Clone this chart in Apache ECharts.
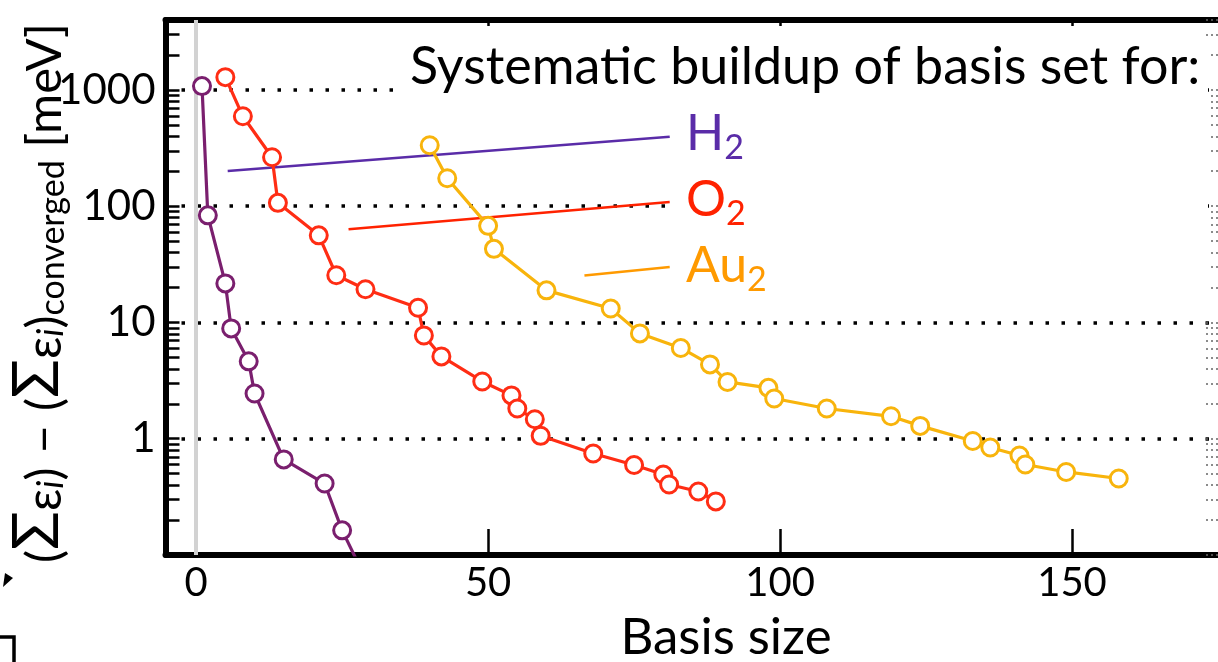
<!DOCTYPE html>
<html><head><meta charset="utf-8">
<script src="https://cdn.jsdelivr.net/npm/echarts@6/dist/echarts.min.js"></script>
<style>html,body{margin:0;padding:0;background:#fff}#c{width:1218px;height:662px}</style>
</head><body><div id="c"></div>
<script>
// ---- data (basis size vs. error in meV) ----
const h2X  = [1, 2, 5, 6, 9, 10, 15, 22, 25, 28];
const h2Y  = [1080, 83.5, 21.7, 8.9, 4.63, 2.45, 0.664, 0.412, 0.163, 0.08];
const o2X  = [5, 8, 13, 14, 21, 24, 29, 38, 39, 42, 49, 54, 55, 58, 59, 68, 75, 80, 81, 86, 89];
const o2Y  = [1290, 594, 264, 107, 56.2, 25.5, 19.3, 13.4, 7.74, 5.11, 3.11, 2.36, 1.82, 1.47, 1.06, 0.747, 0.595, 0.493, 0.404, 0.352, 0.289];
const au2X = [40, 43, 50, 51, 60, 71, 76, 83, 88, 91, 98, 99, 108, 119, 124, 133, 136, 141, 142, 149, 158];
const au2Y = [335, 174, 67.8, 43, 18.9, 13.2, 8.06, 6.04, 4.36, 3.08, 2.74, 2.22, 1.82, 1.56, 1.29, 0.957, 0.841, 0.718, 0.601, 0.518, 0.455];
// legend leader lines (data coordinates)
const h2Leader  = [[5.4, 201], [81.1, 396]];
const o2Leader  = [[26.1, 63.4], [81.1, 109]];
const au2Leader = [[66.5, 25.4], [81.1, 30.0]];
// ticks
const xLabelValues = [0, 50, 100, 150];
const xTickValues  = [50, 100, 150];
const yLabelValues = [1, 10, 100, 1000];
const yDecades     = [0.1, 1, 10, 100, 1000];
const yMinorMult   = [1, 2, 3, 4, 5, 6, 7, 8, 9];

const C_H2 = '#7a1f6e', C_O2 = '#ff2d14', C_AU = '#f8b40c';
const C_H2L = '#5a2ca8', C_O2L = '#ff2200', C_AUL = '#ff9a00';
const FONT = 'Lato';

const yMinor = [];
yDecades.forEach(d => yMinorMult.forEach(m => { const v = +(d * m).toPrecision(3); if (v <= 4000) yMinor.push(v); }));

function pts(xs, ys) { return xs.map((x, i) => [x, ys[i]]); }
function mk(name, xs, ys, color) {
  return { type: 'line', name, data: pts(xs, ys), symbol: 'circle', symbolSize: 17,
    lineStyle: { color, width: 3.2 }, itemStyle: { color: '#fff', borderColor: color, borderWidth: 3 },
    z: 5, clip: true, silent: true };
}
function leader(d, color) {
  return { type: 'line', data: d, symbol: 'none', lineStyle: { color, width: 2.5 }, z: 4, silent: true };
}
function yLabelFmt(v) {
  const l = Math.log10(v), r = Math.round(l);
  if (Math.abs(l - r) < 1e-6 && yLabelValues.indexOf(Math.round(v)) >= 0) return String(Math.round(v));
  return '';
}
// rich token helper: lineHeight chosen so baselines line up
function tok(f, lower, extra) {
  return Object.assign({ fontSize: f, fontFamily: FONT, fill: '#000', verticalAlign: 'bottom',
    lineHeight: 2 * ((12 - lower) + 0.387 * f) }, extra || {});
}

const chart = echarts.init(document.getElementById('c'), null, { renderer: 'canvas' });
chart.setOption({
  animation: false,
  backgroundColor: '#fff',
  grid: { left: 165.5, top: 20, width: 1061.5, height: 535, containLabel: false },
  xAxis: [
    { type: 'value', position: 'bottom', min: -5.25, max: 175,
      axisLine: { onZero: false, lineStyle: { color: '#000', width: 6 } },
      axisTick: { inside: true, length: 26, lineStyle: { color: '#000', width: 2.5 }, customValues: xTickValues },
      axisLabel: { customValues: xLabelValues, fontSize: 40, fontFamily: FONT, color: '#000', margin: 8 },
      splitLine: { show: false } },
    { type: 'value', position: 'top', min: -5.25, max: 175,
      axisLine: { onZero: false, lineStyle: { color: '#000', width: 6 } },
      axisTick: { inside: true, length: 6, lineStyle: { color: '#000', width: 2.5 }, customValues: xTickValues },
      axisLabel: { show: false }, splitLine: { show: false } }
  ],
  yAxis: [
    { type: 'log', logBase: 10, min: 0.1, max: 4000, position: 'left',
      axisLine: { show: true, onZero: false, lineStyle: { color: '#000', width: 6 } },
      axisTick: { show: false },
      axisLabel: { formatter: yLabelFmt, fontSize: 42, fontFamily: FONT, color: '#000', margin: 10 },
      splitLine: { show: true, lineStyle: { color: '#000', width: 3.5, type: [3.5, 12.5] } } },
    { type: 'log', logBase: 10, min: 0.1, max: 4000, position: 'left',
      axisLine: { show: false, onZero: false },
      axisTick: { show: true, inside: true, length: 14, lineStyle: { color: '#000', width: 2.5 }, customValues: yMinor },
      axisLabel: { show: false }, splitLine: { show: false } },
    { type: 'log', logBase: 10, min: 0.1, max: 4000, position: 'right',
      axisLine: { show: false, onZero: false },
      axisTick: { show: true, inside: true, length: 14, lineStyle: { color: '#666', width: 1.5, type: [2, 3] }, customValues: yMinor },
      axisLabel: { show: false }, splitLine: { show: false } }
  ],
  series: [
    { type: 'line', data: [], z: 1, silent: true,
      markLine: { silent: true, symbol: 'none', label: { show: false }, animation: false,
        lineStyle: { color: '#d2d2d2', width: 4, type: 'solid' }, data: [{ xAxis: 0 }] } },
    leader(h2Leader, C_H2L), leader(o2Leader, C_O2L), leader(au2Leader, C_AUL),
    mk('H2', h2X, h2Y, C_H2), mk('O2', o2X, o2Y, C_O2), mk('Au2', au2X, au2Y, C_AU)
  ],
  graphic: [
    { type: 'rect', z: 50, silent: true, shape: { x: 398, y: 42, width: 810, height: 62 }, style: { fill: '#fff' } },
    { type: 'rect', z: 50, silent: true, shape: { x: 675, y: 104, width: 533, height: 196 }, style: { fill: '#fff' } },
    { type: 'text', z: 60, silent: true, x: 410, y: 67,
      style: { text: 'Systematic buildup of basis set for:', fontSize: 52, fontFamily: FONT, fill: '#000',
        align: 'left', verticalAlign: 'middle', textAlign: 'left', textVerticalAlign: 'middle' } },
    { type: 'text', z: 60, silent: true, x: 686, y: 134,
      style: { text: '{m|H}{s|2}', fill: C_H2L, align: 'left', verticalAlign: 'middle',
        rich: { m: { fontSize: 50, fontFamily: FONT, fill: C_H2L, lineHeight: 50, verticalAlign: 'top' },
                s: { fontSize: 34, fontFamily: FONT, fill: C_H2L, lineHeight: 34, padding: [22, 0, 0, 0], verticalAlign: 'top' } } } },
    { type: 'text', z: 60, silent: true, x: 686, y: 200,
      style: { text: '{m|O}{s|2}', fill: C_O2L, align: 'left', verticalAlign: 'middle',
        rich: { m: { fontSize: 50, fontFamily: FONT, fill: C_O2L, lineHeight: 50, verticalAlign: 'top' },
                s: { fontSize: 34, fontFamily: FONT, fill: C_O2L, lineHeight: 34, padding: [22, 0, 0, 0], verticalAlign: 'top' } } } },
    { type: 'text', z: 60, silent: true, x: 686, y: 266,
      style: { text: '{m|Au}{s|2}', fill: C_AUL, align: 'left', verticalAlign: 'middle',
        rich: { m: { fontSize: 50, fontFamily: FONT, fill: C_AUL, lineHeight: 50, verticalAlign: 'top' },
                s: { fontSize: 34, fontFamily: FONT, fill: C_AUL, lineHeight: 34, padding: [22, 0, 0, 0], verticalAlign: 'top' } } } },
    { type: 'text', z: 60, silent: true, x: 726, y: 638,
      style: { text: 'Basis size', fontSize: 51, fontFamily: FONT, fill: '#000', align: 'center', verticalAlign: 'middle',
        textAlign: 'center', textVerticalAlign: 'middle' } },
    { type: 'text', z: 60, silent: true, x: 33, y: 293, rotation: Math.PI / 2,
      style: { text: '{m|(}{g|Σ}{m|ε}{i|i}{m|)}{mi|−}{m|(}{g|Σ}{m|ε}{i|i}{m|)}{c|converged}{m| [meV]}', fill: '#000',
        align: 'center', verticalAlign: 'middle',
        rich: { m: tok(49, 0), g: tok(64, 0), i: tok(36, 0, { fontStyle: 'italic' }),
                mi: tok(49, 0, { padding: [0, 14, 0, 14] }), c: tok(34, 10) } } },
    { type: 'polygon', z: 60, silent: true, shape: { points: [[3, 587], [5, 573], [13, 578]] }, style: { fill: '#000' } },
    { type: 'polyline', z: 60, silent: true, shape: { points: [[0, 637], [14, 637], [14, 662]] }, style: { stroke: '#000', lineWidth: 3.5, fill: null } }
  ]
});
</script></body></html>
